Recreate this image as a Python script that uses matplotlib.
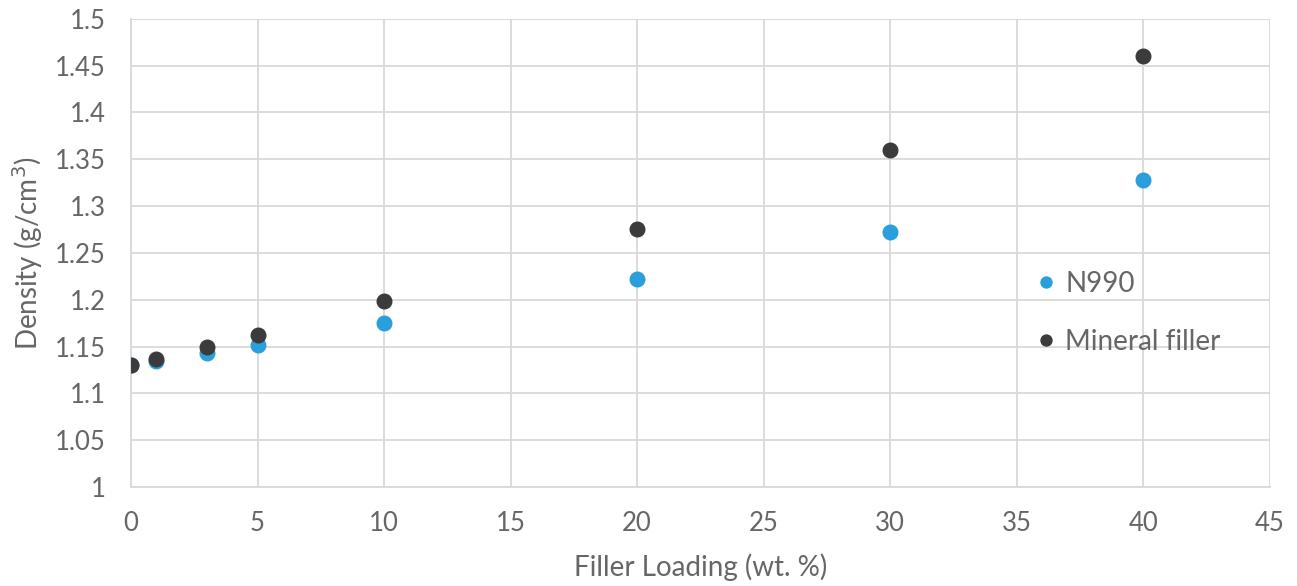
import matplotlib
matplotlib.use("Agg")
import matplotlib.pyplot as plt

# data
loading = [0, 1, 3, 5, 10, 20, 30, 40]
n990 = [1.130, 1.134, 1.143, 1.152, 1.175, 1.222, 1.272, 1.328]
mineral = [1.130, 1.137, 1.150, 1.162, 1.199, 1.275, 1.360, 1.460]

plt.rcParams['font.family'] = ['Lato', 'DejaVu Sans']
grey = '#666666'

fig = plt.figure(figsize=(12.97, 5.86), dpi=100)
ax = fig.add_axes([0.101, 0.169, 0.878, 0.799])

ax.plot(loading, n990, 'o', color='#2a9fdb', markersize=10.5, label='N990', zorder=3)
ax.plot(loading, mineral, 'o', color='#3b3b3b', markersize=10.5, label='Mineral filler', zorder=3)

ax.set_xlim(0, 45)
ax.set_ylim(1, 1.5)
ax.set_xticks(range(0, 46, 5))
ax.set_yticks([1 + 0.05 * i for i in range(11)])
ax.set_yticklabels(['1', '1.05', '1.1', '1.15', '1.2', '1.25', '1.3', '1.35', '1.4', '1.45', '1.5'])

ax.grid(True, color='#d9d9d9', linewidth=1.3)
ax.set_axisbelow(True)
for s in ['top', 'right']:
    ax.spines[s].set_visible(False)
for s in ['left', 'bottom']:
    ax.spines[s].set_color('#d9d9d9')
    ax.spines[s].set_linewidth(1.3)
ax.tick_params(length=0, labelsize=18.5, colors=grey)
ax.tick_params(axis='x', pad=17)
ax.tick_params(axis='y', pad=18)

ax.set_xlabel('Filler Loading (wt. %)', fontsize=20, color=grey, labelpad=13)
ax.set_ylabel('Density (g/cm$^3$)', fontsize=20, color=grey, labelpad=7)

ax.legend(loc='upper left', bbox_to_anchor=(0.769, 0.515), frameon=False,
          fontsize=20, labelcolor=grey, markerscale=0.75, handlelength=1.0,
          handletextpad=0.2, labelspacing=1.15)

fig.savefig('out.png', dpi=100)
